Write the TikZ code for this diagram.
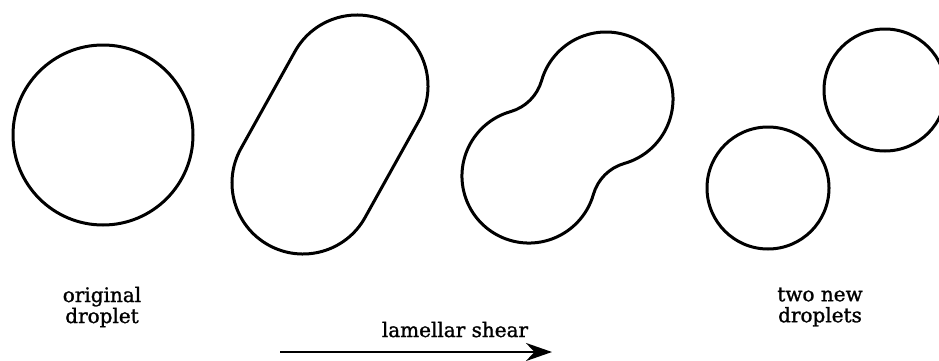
\documentclass[tikz,border=0pt]{standalone}
\usepackage{fontspec}
\setmainfont{DejaVu Serif}
\newfontfamily\capfont{DejaVu Serif}[FakeBold=1.3]
\usetikzlibrary{arrows.meta}
\begin{document}
\begin{tikzpicture}[x=1pt,y=1pt,
  outline/.style={line width=3pt,line join=round},
  caption/.style={font=\capfont\fontsize{20}{21}\selectfont,align=center,inner sep=0pt},
  shear/.style={line width=2.8pt,-{Stealth[length=26pt,width=18pt]}}]
  \useasboundingbox (0,0) rectangle (939,360);

  % stage 1: the original spherical droplet
  \coordinate (drop) at (103,225);
  \draw[outline] (drop) circle[radius=90];

  % stage 2: droplet stretched into a capsule
  \coordinate (capLow) at (303,177);
  \coordinate (capHigh) at (357,274);
  \draw[outline] (capHigh) ++(-29.1:71)
    arc[start angle=-29.1,end angle=150.9,radius=71]
    -- ++(-54,-97)
    arc[start angle=150.9,end angle=330.9,radius=71]
    -- cycle;

  % stage 3: necking into two lobes
  \coordinate (lobeHigh) at (606,261);
  \coordinate (lobeLow) at (529,184);
  \draw[outline] (lobeHigh) ++(-74.1:67)
    arc[start angle=-74.1,end angle=164.1,radius=67]
    arc[start angle=-15.9,end angle=-74.1,radius=45]
    arc[start angle=105.9,end angle=344.1,radius=67]
    arc[start angle=164.1,end angle=105.9,radius=45]
    -- cycle;

  % stage 4: two daughter droplets
  \coordinate (newLow) at (768,172);
  \coordinate (newHigh) at (885,270);
  \draw[outline] (newLow) circle[radius=61];
  \draw[outline] (newHigh) circle[radius=61];

  % captions
  \node[caption] (origLabel) at (102,53) {original\\droplet};
  \node[caption] (newLabel) at (820,53) {two new\\droplets};
  \node[caption,anchor=base] (shearLabel) at (455,23) {lamellar shear};

  % shear direction arrow
  \coordinate (shearStart) at (280,8);
  \coordinate (shearEnd) at (552,8);
  \draw[shear] (shearStart) -- (shearEnd);
\end{tikzpicture}
\end{document}
